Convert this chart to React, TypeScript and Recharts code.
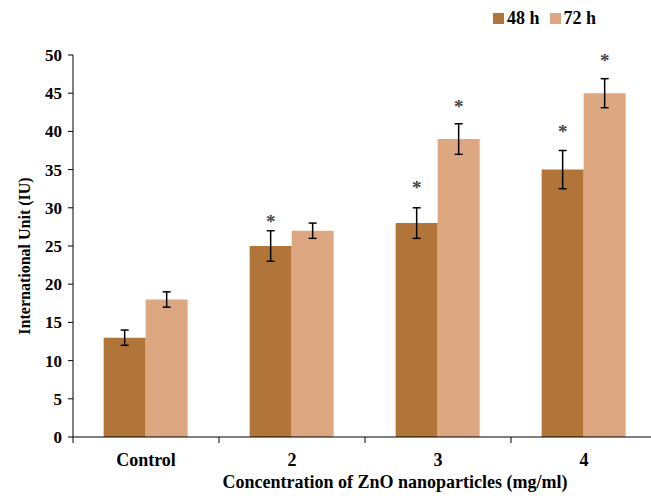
import React from 'react';
import { BarChart, Bar, XAxis, YAxis, ErrorBar, LabelList, Legend } from 'recharts';

const categories = ['Control', '2', '3', '4'];
const values48 = [13, 25, 28, 35];
const values72 = [18, 27, 39, 45];
const errors48 = [1, 2, 2, 2.5];
const errors72 = [1, 1, 2, 1.9];
// level (in IU) where the significance asterisk sits, null = none
const stars48 = [null, 28.7, 33.1, 40.4];
const stars72 = [null, null, 43.7, 49.7];
const yTicks = [0, 5, 10, 15, 20, 25, 30, 35, 40, 45, 50];

const FONT = '"Liberation Serif", "Times New Roman", serif';
const C48 = '#b27539';
const C72 = '#dda782';

const CHART_W = 665;
const CHART_H = 496;
const LEFT = 73;
const TOP = 55;
const RIGHT = 8;
const X_AXIS_H = 59;
const PLOT_W = CHART_W - LEFT - RIGHT;
const PLOT_H = CHART_H - TOP - X_AXIS_H;
const BAND = PLOT_W / categories.length;
const PX_PER_UNIT = PLOT_H / 50;

const data = categories.map((name, i) => ({
  name,
  h48: values48[i],
  h72: values72[i],
  err48: errors48[i],
  err72: errors72[i],
  star48: stars48[i],
  star72: stars72[i],
}));

const CategoryTick = ({ x, y, payload }: any) => (
  <g>
    <line x1={x - BAND / 2} y1={y} x2={x - BAND / 2} y2={y + 6} stroke="#000" strokeWidth={1} />
    <text x={x} y={y + 29} textAnchor="middle" fontFamily={FONT} fontWeight="bold" fontSize={18} fill="#000">
      {payload.value}
    </text>
  </g>
);

const makeStar = (vals: number[]) => (props: any) => {
  const { x, y, width, value, index } = props;
  if (value == null) return null;
  const cy = Number(y) + (vals[index] - value) * PX_PER_UNIT;
  return (
    <text x={Number(x) + Number(width) / 2} y={cy + 10} textAnchor="middle" fontFamily={FONT} fontWeight="bold" fontSize={19} fill="#444">
      *
    </text>
  );
};

const LegendBox = ({ payload }: any) => (
  <div style={{ display: 'flex', alignItems: 'center', fontFamily: FONT, fontWeight: 'bold', fontSize: 18, color: '#000' }}>
    {(payload || []).map((entry: any) => (
      <div key={entry.value} style={{ display: 'flex', alignItems: 'center', marginRight: 10 }}>
        <span style={{ width: 11, height: 11, background: entry.color, marginRight: 3, display: 'inline-block' }} />
        <span>{entry.value}</span>
      </div>
    ))}
  </div>
);

export default function App() {
  return (
    <div style={{ position: 'absolute', left: 0, top: 0, width: 651, height: 496, overflow: 'hidden', background: '#fff' }}>
      <BarChart
        width={CHART_W}
        height={CHART_H}
        data={data}
        margin={{ top: TOP, right: RIGHT, left: 0, bottom: 0 }}
        barCategoryGap="21%"
        barGap={0}
      >
        <XAxis
          dataKey="name"
          height={X_AXIS_H}
          axisLine={{ stroke: '#000', strokeWidth: 1 }}
          tickLine={false}
          tickSize={0}
          tickMargin={0}
          tick={<CategoryTick />}
          interval={0}
          label={{
            value: 'Concentration of ZnO nanoparticles (mg/ml)',
            content: () => (
              <text x={395} y={488} textAnchor="middle" fontFamily={FONT} fontWeight="bold" fontSize={18} fill="#000">
                Concentration of ZnO nanoparticles (mg/ml)
              </text>
            ),
          }}
        />
        <YAxis
          width={LEFT}
          domain={[0, 50]}
          ticks={yTicks}
          interval={0}
          axisLine={{ stroke: '#000', strokeWidth: 1 }}
          tickLine={{ stroke: '#000', strokeWidth: 1 }}
          tickSize={5}
          tickMargin={6}
          tick={{ fontFamily: FONT, fontWeight: 'bold', fontSize: 17, fill: '#000' }}
          label={{
            value: 'International Unit (IU)',
            content: () => (
              <text x={30} y={256} transform="rotate(-90, 30, 256)" textAnchor="middle" fontFamily={FONT} fontWeight="bold" fontSize={16} fill="#000">
                International Unit (IU)
              </text>
            ),
          }}
        />
        <Legend
          layout="vertical"
          align="center"
          verticalAlign="middle"
          content={<LegendBox />}
          wrapperStyle={{ position: 'absolute', top: 8, left: 493, width: 'auto' }}
        />
        <Bar dataKey="h48" name="48 h" fill={C48} isAnimationActive={false}>
          <ErrorBar dataKey="err48" width={4} stroke="#000" strokeWidth={1.5} />
          <LabelList dataKey="star48" content={makeStar(values48)} />
        </Bar>
        <Bar dataKey="h72" name="72 h" fill={C72} isAnimationActive={false}>
          <ErrorBar dataKey="err72" width={4} stroke="#000" strokeWidth={1.5} />
          <LabelList dataKey="star72" content={makeStar(values72)} />
        </Bar>
      </BarChart>
    </div>
  );
}
